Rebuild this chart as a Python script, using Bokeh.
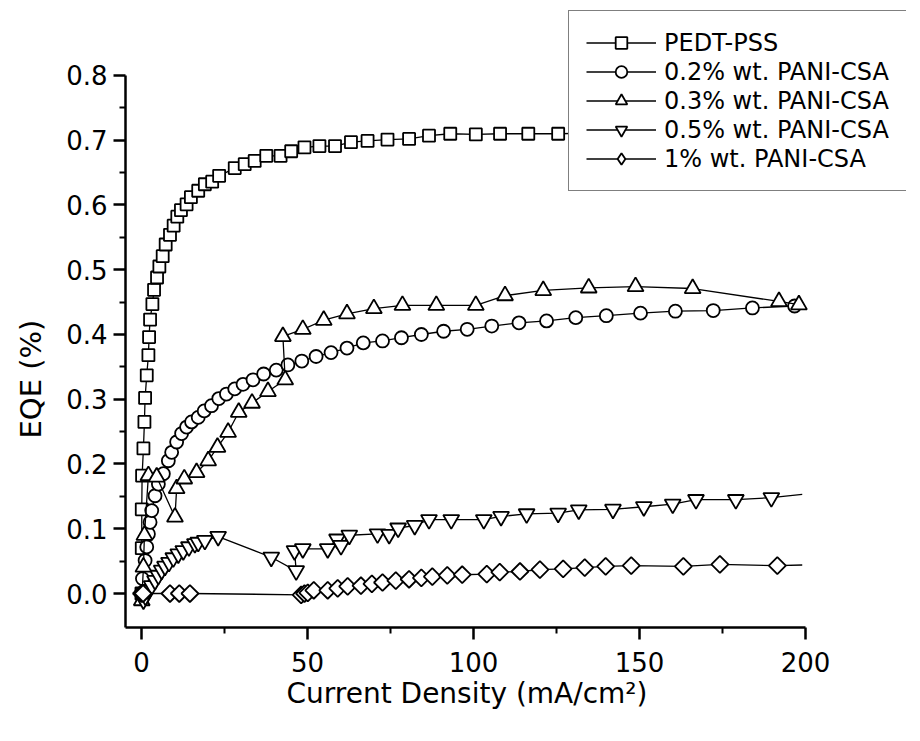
import math
from bokeh.plotting import figure
from bokeh.models import Range1d, FixedTicker, Legend, LegendItem, NumeralTickFormatter, Title
from bokeh.embed import file_html
from bokeh.resources import INLINE

# ---- data ----
pedt_x = [0.0, 0.1, 0.1, 0.2, 0.6, 0.9, 1.1, 1.6, 2.1, 2.3, 2.6, 3.3, 3.8, 4.7, 5.4, 6.4, 7.3,
          8.6, 9.7, 10.8, 11.9, 13.6, 14.9, 17.1, 19.1, 21.3, 23.4, 28.1, 31.1, 34.1, 37.6,
          41.9, 45.1, 49.1, 53.6, 58.3, 63.1, 68.1, 74.1, 80.6, 86.6, 93.0, 100.7, 108.0,
          116.5, 125.5, 135.0, 145.0, 156.0, 167.0, 178.0, 189.0, 198.0]
pedt_y = [0.0, 0.07, 0.13, 0.182, 0.224, 0.265, 0.302, 0.337, 0.368, 0.396, 0.423, 0.447, 0.469,
          0.488, 0.505, 0.521, 0.539, 0.554, 0.568, 0.582, 0.592, 0.601, 0.612, 0.622, 0.632,
          0.636, 0.645, 0.657, 0.663, 0.668, 0.676, 0.676, 0.683, 0.689, 0.691, 0.691, 0.697,
          0.699, 0.701, 0.702, 0.707, 0.710, 0.709, 0.710, 0.710, 0.710, 0.711, 0.712, 0.712,
          0.713, 0.713, 0.713, 0.714]

p02_x = [0.0, 0.3, 1.1, 1.6, 2.1, 2.6, 3.1, 4.1, 5.1, 6.6, 8.1, 9.1, 10.6, 12.1, 13.6, 15.1,
         17.1, 18.9, 21.1, 23.3, 25.6, 28.1, 30.6, 33.6, 36.8, 40.6, 44.1, 48.3, 52.6, 57.1,
         61.9, 66.8, 72.6, 78.3, 84.3, 91.0, 98.1, 105.5, 113.7, 122.0, 130.8, 140.0, 150.3,
         160.8, 172.2, 184.0, 196.7]
p02_y = [0.0, 0.023, 0.051, 0.072, 0.092, 0.110, 0.128, 0.151, 0.169, 0.185, 0.205, 0.218,
         0.234, 0.247, 0.257, 0.265, 0.272, 0.282, 0.290, 0.301, 0.308, 0.316, 0.323, 0.330,
         0.339, 0.345, 0.353, 0.359, 0.366, 0.372, 0.379, 0.387, 0.390, 0.395, 0.400, 0.405,
         0.408, 0.413, 0.418, 0.421, 0.426, 0.429, 0.433, 0.436, 0.437, 0.441, 0.444]

p03_x = [0.1, 0.6, 0.9, 2.1, 4.6, 10.1, 10.6, 12.9, 16.6, 20.1, 22.9, 26.1, 29.3, 33.3, 38.1,
         43.3, 42.6, 48.6, 54.9, 61.9, 70.0, 78.6, 88.8, 100.7, 109.5, 121.0, 134.7, 148.8,
         166.0, 192.0, 198.0]
p03_y = [-0.011, 0.041, 0.090, 0.182, 0.180, 0.118, 0.162, 0.177, 0.187, 0.205, 0.226, 0.249,
         0.280, 0.294, 0.312, 0.330, 0.397, 0.408, 0.422, 0.432, 0.440, 0.445, 0.445, 0.445,
         0.460, 0.468, 0.472, 0.474, 0.471, 0.451, 0.446]

p05_x = [0.6, 1.2, 2.1, 3.1, 4.1, 5.1, 6.1, 7.1, 8.3, 9.6, 11.1, 12.6, 14.3, 16.1, 17.1, 19.1,
         23.1, 39.1, 46.6, 46.1, 48.6, 56.1, 58.9, 60.1, 62.6, 71.1, 74.6, 77.3, 82.3, 86.6,
         93.3, 103.1, 108.3, 116.0, 125.5, 131.7, 142.0, 151.3, 160.0, 167.0, 179.0, 189.7,
         199.0]
p05_y = [-0.010, -0.004, 0.005, 0.012, 0.020, 0.028, 0.036, 0.042, 0.048, 0.055, 0.061, 0.066,
         0.072, 0.077, 0.079, 0.082, 0.088, 0.056, 0.035, 0.066, 0.069, 0.069, 0.084, 0.074,
         0.090, 0.092, 0.091, 0.101, 0.105, 0.114, 0.114, 0.114, 0.119, 0.123, 0.124, 0.129,
         0.130, 0.134, 0.138, 0.145, 0.145, 0.148, 0.153]

p1_x = [0.0, 0.5, 8.6, 11.4, 14.6, 48.1, 49.1, 50.1, 51.9, 56.1, 59.1, 62.1, 66.1, 69.4, 72.6,
        76.6, 80.6, 84.3, 87.6, 92.1, 96.6, 104.0, 107.9, 114.0, 120.0, 127.0, 133.5, 139.8,
        147.5, 163.2, 174.2, 191.5, 199.0]
p1_y = [0.0, 0.0, 0.0, 0.0, 0.0, -0.002, 0.0, 0.001, 0.005, 0.005, 0.008, 0.011, 0.012, 0.015,
        0.017, 0.020, 0.022, 0.024, 0.026, 0.028, 0.029, 0.030, 0.033, 0.034, 0.037, 0.038,
        0.040, 0.042, 0.043, 0.042, 0.045, 0.043, 0.044]

labels = ["PEDT-PSS", "0.2% wt. PANI-CSA", "0.3% wt. PANI-CSA",
          "0.5% wt. PANI-CSA", "1% wt. PANI-CSA"]
x_ticks = [0, 50, 100, 150, 200]
x_minor = [25, 75, 125, 175]
y_ticks = [0.0, 0.1, 0.2, 0.3, 0.4, 0.5, 0.6, 0.7, 0.8]
y_minor = [0.05, 0.15, 0.25, 0.35, 0.45, 0.55, 0.65, 0.75]
x_axis_span = (-4.8, 200)
y_axis_span = (-0.0525, 0.8)
x_title = "Current Density (mA/cm²)"
y_title = "EQE (%)"

FONT = "DejaVu Sans"

# The frame reaches above / right of the drawn axes so the legend box fits inside it;
# the axis lines themselves are limited with `bounds`.
p = figure(frame_width=781, frame_height=627,
           min_border_left=125, min_border_right=2, min_border_top=0, min_border_bottom=96,
           x_range=Range1d(-4.8, 230.4), y_range=Range1d(-0.0525, 0.9158),
           output_backend="svg", toolbar_location=None)
p.grid.visible = False
p.outline_line_color = None
p.background_fill_color = "white"
p.border_fill_color = "white"

for ax in (p.xaxis[0], p.yaxis[0]):
    ax.axis_line_width = 2.5
    ax.axis_line_color = "black"
    ax.major_tick_line_width = 2.5
    ax.minor_tick_line_width = 2
    ax.major_tick_in = 0
    ax.major_tick_out = 12
    ax.minor_tick_in = 0
    ax.minor_tick_out = 6
    ax.major_label_text_font = FONT
    ax.major_label_text_font_size = "26px"
    ax.major_label_text_color = "black"

p.xaxis.bounds = x_axis_span
p.yaxis.bounds = y_axis_span
p.xaxis.ticker = FixedTicker(ticks=x_ticks, minor_ticks=x_minor)
p.yaxis.ticker = FixedTicker(ticks=y_ticks, minor_ticks=y_minor)
p.yaxis.formatter = NumeralTickFormatter(format="0.0")
p.xaxis.major_label_standoff = 12
p.yaxis.major_label_standoff = 6

# axis titles placed as side-panel titles so they can be centred on the bounded axes
xt = Title(text=x_title, align="left", offset=161, standoff=0,
           text_font=FONT, text_font_size="28px", text_font_style="normal", text_color="black")
p.add_layout(xt, "below")
yt = Title(text=y_title, align="left", offset=189, standoff=27, vertical_align="top",
           text_font=FONT, text_font_size="29px", text_font_style="normal", text_color="black")
p.add_layout(yt, "left")

series = [
    (pedt_x, pedt_y, "square", 12, 0.0),
    (p02_x, p02_y, "circle", 13, 0.0),
    (p03_x, p03_y, "triangle", 16, 0.0),
    (p05_x, p05_y, "inverted_triangle", 16, 0.0),
    (p1_x, p1_y, "square", 12, math.pi / 4),
]

items = []
for (xs, ys, mk, sz, ang), lab in zip(series, labels):
    lr = p.line(xs, ys, line_color="black", line_width=1.3)
    # the last point of the 0.5% and 1% curves is a line end without a marker
    if lab.startswith("0.5") or lab.startswith("1%"):
        mx, my = xs[:-1], ys[:-1]
    else:
        mx, my = xs, ys
    sr = p.scatter(mx, my, marker=mk, size=sz, angle=ang, line_color="black", line_width=1.8,
                   fill_color="white")
    rends = [lr, sr]
    if ang != 0.0:
        # legend keys ignore the marker angle: a hidden diamond renderer supplies the key
        key = p.scatter(mx, my, marker="diamond", size=21, line_color="black",
                        line_width=1.8, fill_color="white", visible=False)
        rends = [lr, key]
    items.append(LegendItem(label=lab, renderers=rends))

legend = Legend(items=items, location=(443, 436),
                border_line_color="black", border_line_width=1.2,
                background_fill_color="white", background_fill_alpha=1.0,
                inactive_fill_alpha=0.0,
                label_text_font=FONT, label_text_font_size="24px", label_text_color="black",
                glyph_width=70, glyph_height=29, label_height=28, label_standoff=8,
                spacing=0, padding=17, margin=0)
p.add_layout(legend)

open("out.html", "w").write(file_html(p, INLINE))
